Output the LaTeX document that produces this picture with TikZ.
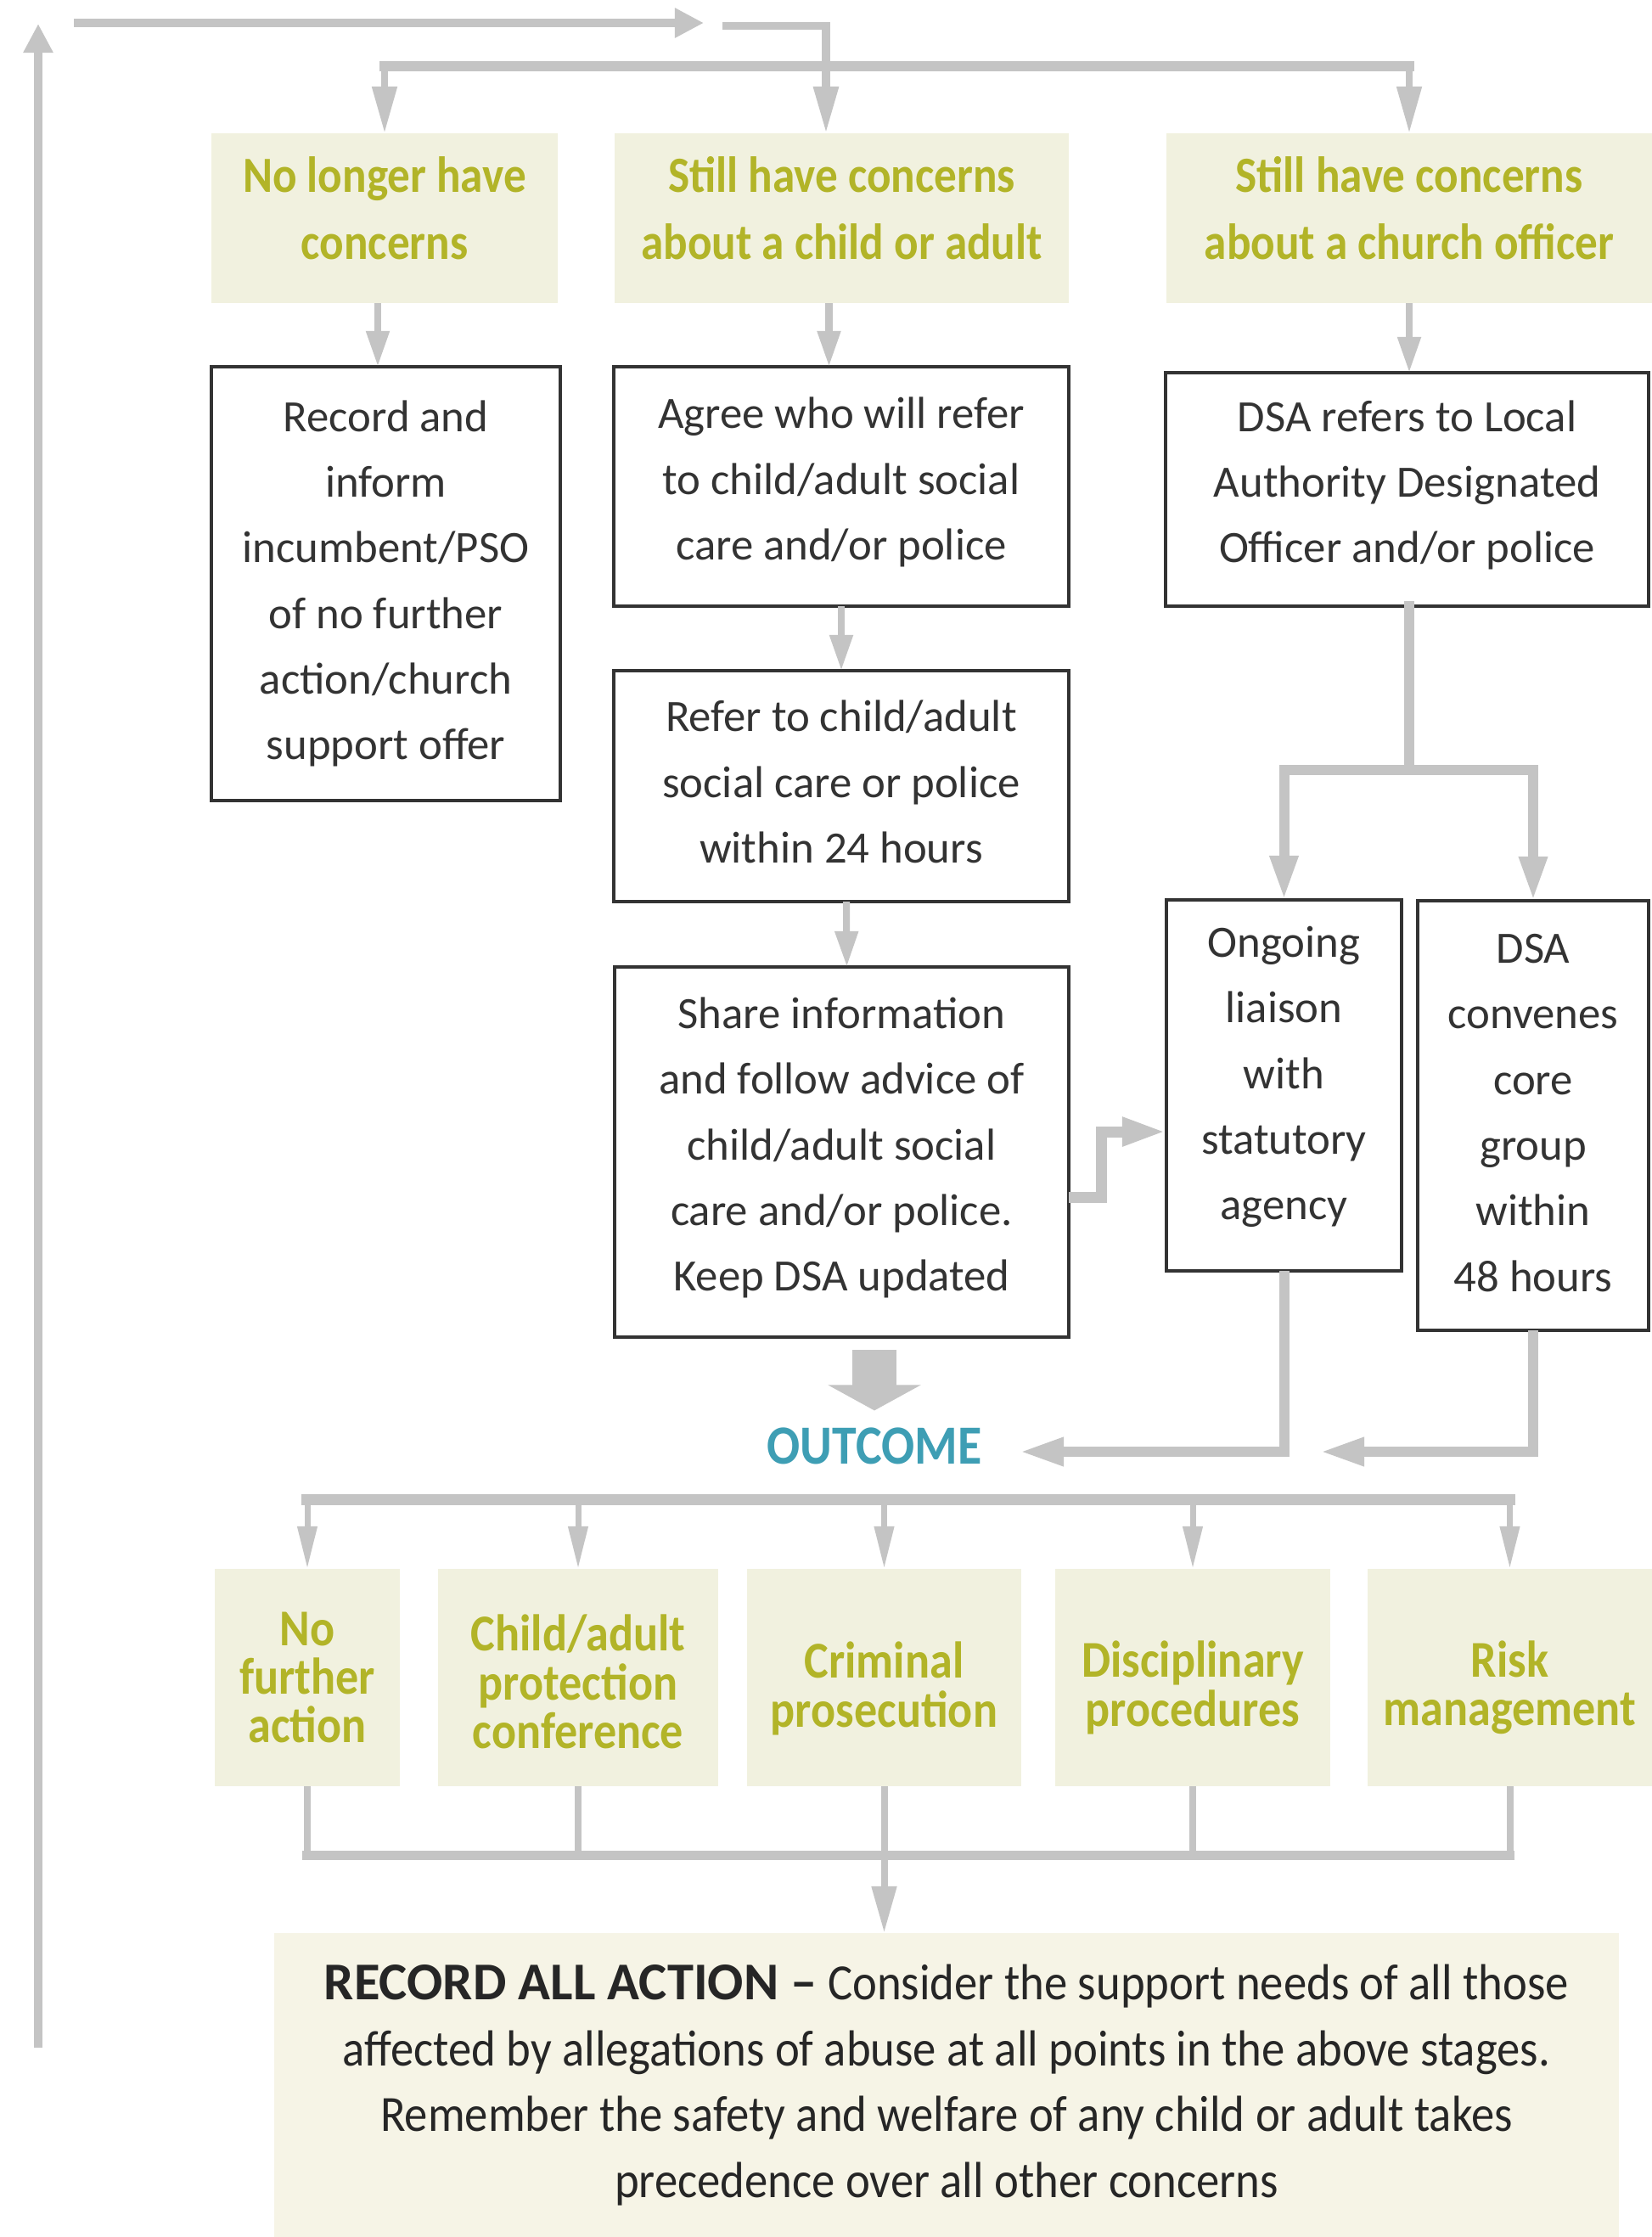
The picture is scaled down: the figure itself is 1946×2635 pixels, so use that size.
\documentclass[tikz,border=0pt]{standalone}
\usepackage{fontspec}
\setmainfont{Carlito}
\newfontfamily\condf{Carlito}[FakeStretch=0.89]
\newfontfamily\condr{Carlito}[FakeStretch=0.915]
\usetikzlibrary{arrows.meta}
\definecolor{lg}{HTML}{C4C4C4}
\definecolor{beige}{HTML}{F1F1DF}
\definecolor{beigeB}{HTML}{F6F4E6}
\definecolor{olivetx}{HTML}{B2B428}
\definecolor{outteal}{HTML}{3E9EB4}
\definecolor{txtgray}{HTML}{333333}
\tikzset{
  hdr/.style={fill=beige, draw=none, inner sep=0pt, outer sep=0pt},
  hdrt/.style={inner sep=0pt, outer sep=0pt, align=center, text=olivetx,
    font={\condf\bfseries\fontsize{17}{22.5}\selectfont}},
  wbox/.style={draw=black!80, line width=1pt, fill=white, inner sep=0pt, outer sep=0pt},
  wboxt/.style={inner sep=0pt, outer sep=0pt, align=center, text=txtgray,
    font={\fontsize{15}{22}\selectfont}},
  obox/.style={fill=beige, draw=none, inner sep=0pt, outer sep=0pt, minimum height=2.56cm},
  oboxt/.style={inner sep=0pt, outer sep=0pt, align=center, text=olivetx,
    font={\condf\bfseries\fontsize{17.3}{16.3}\selectfont}},
  gl/.style={draw=lg, line width=0.12cm},
  ta/.style={-{Triangle[length=0.55cm,width=0.28cm]}},
  tsh/.style={-{Triangle[length=0.42cm,width=0.26cm]}},
  tb/.style={-{Triangle[length=0.34cm,width=0.33cm]}},
  tm/.style={-{Triangle[length=0.52cm,width=0.31cm]}},
  tthin/.style={-{Triangle[length=0.5cm,width=0.22cm]}},
}
\begin{document}
\begin{tikzpicture}[x=0.01cm, y=-0.01cm]
\useasboundingbox (0,0) rectangle (1946,2635);
\fill[white] (0,0) rectangle (1946,2635);

% header boxes
\node[hdr, minimum width=4.08cm, minimum height=2cm] (H1) at (453,257) {};
\node[hdr, minimum width=5.35cm, minimum height=2cm] (H2) at (991.5,257) {};
\node[hdr, minimum width=5.72cm, minimum height=2cm] (H3) at (1660,257) {};
\node[hdrt, yshift=0.12cm] (H1t) at (H1.center) {No longer have\\concerns};
\node[hdrt, yshift=0.12cm] (H2t) at (H2.center) {Still have concerns\\about a child or adult};
\node[hdrt, yshift=0.12cm] (H3t) at (H3.center) {Still have concerns\\about a church officer};

% white boxes
\node[wbox, minimum width=4.11cm, minimum height=5.11cm] (R1) at (454.5,687.5) {};
\node[wbox, minimum width=5.36cm, minimum height=2.82cm] (A) at (991,573) {};
\node[wbox, minimum width=5.69cm, minimum height=2.75cm] (D) at (1657.5,576.5) {};
\node[wbox, minimum width=5.36cm, minimum height=2.72cm] (Rf) at (991,926) {};
\node[wbox, minimum width=5.35cm, minimum height=4.36cm] (S) at (991.5,1357) {};
\node[wbox, minimum width=2.77cm, minimum height=4.37cm] (O) at (1512.5,1278.5) {};
\node[wbox, minimum width=2.72cm, minimum height=5.06cm] (C) at (1806,1314) {};
\node[wboxt] (R1t) at (R1.center) {Record and\\inform\\incumbent/PSO\\of no further\\action/church\\support offer};
\node[wboxt, yshift=0.05cm] (At) at (A.center) {Agree who will refer\\to child/adult social\\care and/or police};
\node[wboxt, yshift=0.05cm] (Dt) at (D.center) {DSA refers to Local\\Authority Designated\\Officer and/or police};
\node[wboxt, yshift=0.05cm] (Rft) at (Rf.center) {Refer to child/adult\\social care or police\\within 24 hours};
\node[wboxt, yshift=0.05cm] (St) at (S.center) {Share information\\and follow advice of\\child/adult social\\care and/or police.\\Keep DSA updated};
\node[wboxt, yshift=0.10cm] (Ot) at (O.center) {Ongoing\\liaison\\with\\statutory\\agency};
\node[wboxt, yshift=0.03cm] (Ct) at (C.center) {DSA\\convenes\\core\\group\\within\\48 hours};

% outcome
\node[text=outteal, inner sep=0.2cm, outer sep=0pt, font={\condf\bfseries\fontsize{18.5}{22}\selectfont}] (OUT) at (1030,1703) {OUTCOME};

% bottom boxes
\node[obox, minimum width=2.18cm] (B1) at (362,1976) {};
\node[obox, minimum width=3.30cm] (B2) at (681,1976) {};
\node[obox, minimum width=3.23cm] (B3) at (1041.5,1976) {};
\node[obox, minimum width=3.24cm] (B4) at (1405,1976) {};
\node[obox, minimum width=3.35cm] (B5) at (1778.5,1976) {};
\node[oboxt] (B1t) at (B1.center) {No\\further\\action};
\node[oboxt, yshift=-0.05cm] (B2t) at (B2.center) {Child/adult\\protection\\conference};
\node[oboxt, yshift=-0.13cm] (B3t) at (B3.center) {Criminal\\prosecution};
\node[oboxt, yshift=-0.12cm] (B4t) at (B4.center) {Disciplinary\\procedures};
\node[oboxt, yshift=-0.12cm] (B5t) at (B5.center) {Risk\\management};

% record all action
\node[fill=beigeB, inner sep=0pt, outer sep=0pt, minimum width=15.84cm, minimum height=3.58cm, align=center, text=black!85,
  font={\condr\fontsize{17}{22}\selectfont}] (RA) at (1115,2456)
  {{\rmfamily\bfseries\fontsize{17.8}{22}\selectfont RECORD ALL ACTION \textendash} Consider the support needs of all those\\
   affected by allegations of abuse at all points in the above stages.\\
   Remember the safety and welfare of any child or adult takes\\
   precedence over all other concerns};

% ---- connectors ----
\coordinate (la0) at (45,2412);
\coordinate (la1) at (45,28);
\draw[gl, line width=0.09cm, tb] (la0) -- (la1);
\coordinate (ta0) at (87,27);
\coordinate (ta1) at (829,27);
\draw[gl, line width=0.1cm, tb] (ta0) -- (ta1);
\coordinate (s0) at (851,30);
\draw[gl, line width=0.09cm, ta] (s0) -| ([xshift=-0.185cm]H2.north);
\coordinate (br) at (0,78);
\draw[gl, line cap=rect] (H1.north |- br) -- (H3.north |- br);
\draw[gl, line width=0.08cm, ta] (H1.north |- br) -- (H1.north);
\draw[gl, line width=0.08cm, ta] (H3.north |- br) -- (H3.north);

\draw[gl, line width=0.08cm, tsh] ([xshift=-0.08cm]H1.south) -- ([xshift=-0.08cm]H1.south |- R1.north);
\draw[gl, line width=0.08cm, tsh] ([xshift=-0.15cm]H2.south) -- ([xshift=-0.15cm]H2.south |- A.north);
\draw[gl, line width=0.08cm, tsh] (H3.south) -- (H3.south |- D.north);
\draw[gl, line width=0.08cm, tsh] (A.south) -- (Rf.north);
\draw[gl, line width=0.08cm, tsh] ([xshift=0.06cm]Rf.south) -- ([xshift=0.06cm]S.north);

\coordinate (sp) at (0,907);
\draw[gl, line cap=rect] (H3.south |- D.south) -- (H3.south |- sp);
\draw[gl, line cap=rect] (O.north |- sp) -- (C.north |- sp);
\draw[gl, tm] (O.north |- sp) -- (O.north);
\draw[gl, tm] (C.north |- sp) -- (C.north);

\draw[gl, line width=0.13cm, tm] ([yshift=-0.53cm]S.east) -- ++(38,0) |- ([yshift=-0.545cm]O.west);

\path (S.south -| OUT.north) ++(0,15) coordinate (bs);
\draw[draw=lg, line width=0.52cm, -{Triangle[length=0.3cm,width=1.08cm]}] (bs) -- (OUT.north);

\coordinate (t1) at (1201,1710);
\coordinate (t2) at (1555,1710);
\draw[gl, tm] (O.south) |- (t1);
\draw[gl, tm] (C.south) |- (t2);

\coordinate (dl) at (0,1766);
\draw[gl, line width=0.13cm, line cap=rect] (B1.north |- dl) -- (B5.north |- dl);
\foreach \b in {B1,B2,B3,B4,B5} \draw[gl, line width=0.07cm, tthin] (\b.north |- dl) -- (\b.north);

\coordinate (bl) at (0,2185);
\foreach \b in {B1,B2,B4,B5} \draw[gl, line width=0.08cm] (\b.south) -- (\b.south |- bl);
\draw[gl, line width=0.11cm, line cap=rect] (B1.south |- bl) -- (B5.south |- bl);
\draw[gl, line width=0.08cm, ta] (B3.south) -- (B3.south |- RA.north);
\end{tikzpicture}
\end{document}
